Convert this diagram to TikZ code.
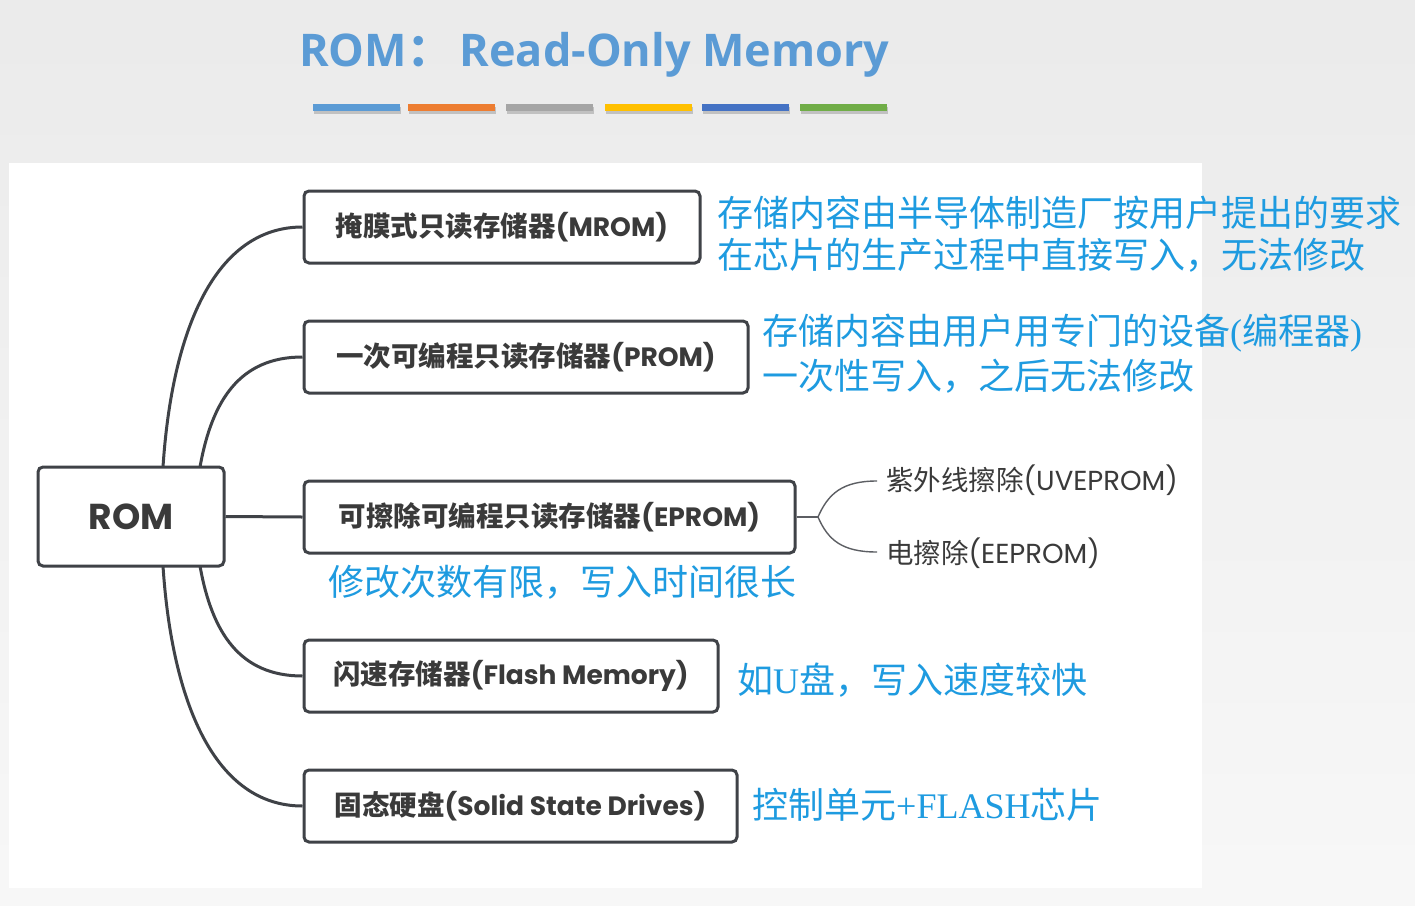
\documentclass[tikz,border=0pt]{standalone}
\usepackage{fontspec}
\setmainfont{Poppins}
\newfontfamily\cjk{Noto Sans CJK SC}
\newfontfamily\pop{Poppins}
\newfontfamily\ttl{Open Sans}
\newfontfamily\song{Noto Sans CJK SC}
\newfontfamily\tms{Liberation Serif}
\usetikzlibrary{calc}
\definecolor{ttlblue}{HTML}{5B9BD5}
\definecolor{ann}{HTML}{1E9BE0}
\definecolor{ink}{HTML}{3F4247}
\definecolor{txt}{HTML}{3A3A3A}
\definecolor{barA}{HTML}{5B9BD5}
\definecolor{barB}{HTML}{ED7D31}
\definecolor{barC}{HTML}{A5A5A5}
\definecolor{barD}{HTML}{FFC000}
\definecolor{barE}{HTML}{4472C4}
\definecolor{barF}{HTML}{70AD47}
\tikzset{
  box/.style={draw=ink, line width=3pt, rounded corners=5pt, fill=white,
    minimum height=72pt, inner sep=0pt, text=txt,
    font=\cjk\bfseries\fontsize{27.5}{30}\selectfont},
  lat/.style={},
  link/.style={draw=ink, line width=3pt},
  sublink/.style={draw=ink!85, line width=1.4pt},
  subtext/.style={anchor=west, inner sep=0pt, text=txt,
    font=\cjk\fontsize{27.5}{30}\selectfont},
  ann/.style={text=ann, anchor=west, inner sep=0pt,
    font=\song\fontsize{36}{42}\selectfont},
}
\newcommand\boxlat[1]{{\pop\fontsize{26.5}{30}\selectfont #1}}
\begin{document}
\begin{tikzpicture}[x=1pt,y=-1pt]
\useasboundingbox (0,0) rectangle (1415,905);
\shade[top color=black!8, bottom color=black!3] (0,0) rectangle (1415,905);
\fill[white] (9,163) rectangle (1202,888);
% title
\node[anchor=west, inner sep=0pt, text=ttlblue, font=\ttl\bfseries\fontsize{45}{50}\selectfont] (title) at (299,55) {ROM{\cjk：}\,Read-Only Memory};
% bars
\foreach \x/\c in {313/barA,408/barB,506/barC,605/barD,702/barE,800/barF}{
  \fill[black, opacity=0.18] (\x+1,107) rectangle (\x+88,114);
  \fill[\c] (\x,104) rectangle (\x+87,111);
}
% nodes
\node[box, minimum width=186pt, minimum height=99pt, font=\pop\bfseries\fontsize{36}{40}\selectfont] (rom) at (131,516.5) {ROM};
\node[box, minimum width=396pt] (mrom) at (502,227) {掩膜式只读存储器\boxlat{(MROM)}};
\node[box, minimum width=444pt] (prom) at (526,357) {一次可编程只读存储器\boxlat{(PROM)}};
\node[box, minimum width=491pt] (eprom) at (549.5,517) {可擦除可编程只读存储器\boxlat{(EPROM)}};
\node[box, minimum width=414pt] (flash) at (511,676) {闪速存储器\boxlat{(Flash Memory)}};
\node[box, minimum width=433pt] (ssd) at (520.5,806) {固态硬盘\boxlat{(Solid State Drives)}};
% connectors
\coordinate (r1) at (163,467);
\coordinate (r2) at (200,467);
\coordinate (r3) at (200,566);
\coordinate (r4) at (163,566);
\draw[link] (r1) .. controls (172,330) and (215,227) .. (mrom.west);
\draw[link] (r2) .. controls (212,400) and (240,357) .. (prom.west);
\draw[link] (rom.east) -- (eprom.west);
\draw[link] (r3) .. controls (212,633) and (240,676) .. (flash.west);
\draw[link] (r4) .. controls (172,703) and (215,806) .. (ssd.west);
% sub branch
\coordinate (br) at (818,517);
\node[subtext] (uv) at (886,480) {紫外线擦除{\pop (UVEPROM)}};
\node[subtext] (ee) at (886,553) {电擦除{\pop (EEPROM)}};
\coordinate (uvin) at (877,481);
\coordinate (eein) at (877,552);
\draw[sublink] (eprom.east) -- (br);
\draw[sublink] (br) .. controls (828,494) and (842,481) .. (uvin);
\draw[sublink] (br) .. controls (828,540) and (842,552) .. (eein);
% annotations
\node[ann] (a1) at (717,213) {存储内容由半导体制造厂按用户提出的要求};
\node[ann] (a2) at (717,255) {在芯片的生产过程中直接写入，无法修改};
\node[ann] (b1) at (762,333) {存储内容由用户用专门的设备{\tms (}编程器{\tms )}};
\node[ann] (b2) at (762,376) {一次性写入，之后无法修改};
\node[ann] (c1) at (328,582) {修改次数有限，写入时间很长};
\node[ann] (d1) at (737,680) {如{\tms U}盘，写入速度较快};
\node[ann] (e1) at (752,805) {控制单元{\tms +FLASH}芯片};
\end{tikzpicture}
\end{document}
